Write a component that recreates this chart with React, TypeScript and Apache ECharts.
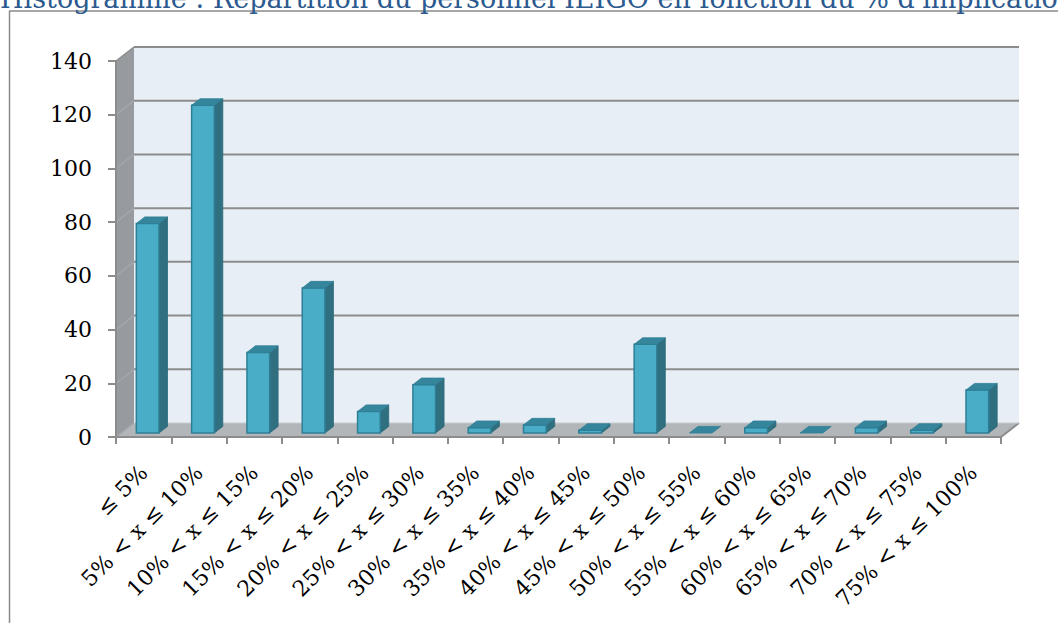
import React, { useEffect, useRef } from "react";
import * as echarts from "echarts";

const titleText = "Histogramme : Répartition du personnel IEIGO en fonction du % d'implication";
const categories = [
  "≤ 5%",
  "5% < x ≤ 10%",
  "10% < x ≤ 15%",
  "15% < x ≤ 20%",
  "20% < x ≤ 25%",
  "25% < x ≤ 30%",
  "30% < x ≤ 35%",
  "35% < x ≤ 40%",
  "40% < x ≤ 45%",
  "45% < x ≤ 50%",
  "50% < x ≤ 55%",
  "55% < x ≤ 60%",
  "60% < x ≤ 65%",
  "65% < x ≤ 70%",
  "70% < x ≤ 75%",
  "75% < x ≤ 100%",
];
const values = [78, 122, 30, 54, 8, 18, 2, 3, 1, 33, 0, 2, 0, 2, 1, 16];
const yMin = 0;
const yMax = 140;
const yInterval = 20;
const yTicks = [0, 20, 40, 60, 80, 100, 120, 140];

const DX = 18;
const DY = -14;
const BX = 4;
const BY = -4;
const BDX = 8.5;
const BDY = -6.6;
const GRID_COLOR = "#8c8c8c";

export default function App() {
  const ref = useRef<HTMLDivElement>(null);
  useEffect(() => {
    document.body.style.margin = "0";
    const chart = echarts.init(ref.current!, null, { renderer: "svg" });
    const n = categories.length;

    const frameRender = (params: any, api: any) => {
      const bandW = api.size([1, 0])[0];
      const L = api.coord([0, 0])[0] - bandW / 2;
      const R = api.coord([n - 1, 0])[0] + bandW / 2;
      const y0 = api.coord([0, yMin])[1];
      const yT = api.coord([0, yMax])[1];
      const children: any[] = [];
      children.push({
        type: "rect",
        shape: { x: L + DX, y: yT + DY, width: R - L, height: y0 - yT },
        style: { fill: "#e8eef6" },
      });
      children.push({
        type: "polygon",
        shape: { points: [[L, yT], [L + DX, yT + DY], [L + DX, y0 + DY], [L, y0]] },
        style: { fill: "#979a9e" },
      });
      children.push({
        type: "polygon",
        shape: { points: [[L, y0], [L + DX, y0 + DY], [R + DX, y0 + DY], [R, y0]] },
        style: { fill: "#b3b6b9" },
      });
      yTicks.forEach((t) => {
        const yy = api.coord([0, t])[1];
        if (t !== yMin) {
          children.push({
            type: "line",
            shape: { x1: L + DX, y1: yy + DY, x2: R + DX, y2: yy + DY },
            style: { stroke: GRID_COLOR, lineWidth: 2 },
          });
        }
        children.push({
          type: "line",
          shape: { x1: L, y1: yy, x2: L + DX, y2: yy + DY },
          style: { stroke: t === yMax ? GRID_COLOR : "#a3a6aa", lineWidth: 1.5 },
        });
      });
      children.push({
        type: "line",
        shape: { x1: R, y1: y0, x2: R + DX, y2: y0 + DY },
        style: { stroke: GRID_COLOR, lineWidth: 2 },
      });
      children.push({
        type: "line",
        shape: { x1: L + DX, y1: y0 + DY, x2: R + DX, y2: y0 + DY },
        style: { stroke: "#c9ccd0", lineWidth: 1 },
      });
      return { type: "group", children };
    };

    const barRender = (params: any, api: any) => {
      const i = api.value(0);
      const v = api.value(1);
      const bandW = api.size([1, 0])[0];
      const c = api.coord([i, v]);
      const c0 = api.coord([i, 0]);
      const w = bandW * 0.41;
      const xl = c[0] + BX - w / 2;
      const xr = xl + w;
      const top = c[1] + BY;
      const bottom = c0[1] + BY;
      const children: any[] = [];
      if (bottom - top > 0.5) {
        children.push({
          type: "polygon",
          shape: { points: [[xr, top], [xr + BDX, top + BDY], [xr + BDX, bottom + BDY], [xr, bottom]] },
          style: { fill: "#2f6f80", stroke: "#2b6a7a", lineWidth: 0.8 },
        });
        children.push({
          type: "rect",
          shape: { x: xl, y: top, width: w, height: bottom - top },
          style: { fill: "#4aadc8", stroke: "#2e7f95", lineWidth: 1.5 },
        });
      }
      children.push({
        type: "polygon",
        shape: { points: [[xl, top], [xl + BDX, top + BDY], [xr + BDX, top + BDY], [xr, top]] },
        style: { fill: "#35869c", stroke: "#2e7f95", lineWidth: 0.8 },
      });
      return { type: "group", children };
    };

    chart.setOption({
      animation: false,
      backgroundColor: "#ffffff",
      grid: { left: 116, right: 57, top: 61, bottom: 186, containLabel: false },
      graphic: [
        {
          type: "line",
          shape: { x1: 9.5, y1: 11, x2: 9.5, y2: 623 },
          style: { stroke: "#8a8a8a", lineWidth: 1.5 },
          z: 1,
        },
        {
          type: "line",
          shape: { x1: 9, y1: 11, x2: 1058, y2: 11 },
          style: { stroke: "#8a8a8a", lineWidth: 1.5 },
          z: 1,
        },
        {
          type: "text",
          x: 0,
          y: 12,
          z: 5,
          style: {
            text: titleText,
            fill: "#2c5a8e",
            font: "27px 'DejaVu Serif'",
            verticalAlign: "bottom",
            align: "left",
          },
        },
      ],
      xAxis: {
        type: "category",
        data: categories,
        z: 10,
        axisLine: { show: true, lineStyle: { color: GRID_COLOR, width: 2 } },
        axisTick: { show: true, length: 7, interval: 0, lineStyle: { color: GRID_COLOR, width: 2 } },
        axisLabel: {
          interval: 0,
          rotate: 45,
          margin: 32,
          color: "#000",
          fontFamily: "DejaVu Serif",
          fontSize: 22,
        },
        splitLine: { show: false },
      },
      yAxis: {
        type: "value",
        min: yMin,
        max: yMax,
        interval: yInterval,
        z: 10,
        axisLine: { show: true, lineStyle: { color: GRID_COLOR, width: 2 } },
        axisTick: { show: true, length: 8, lineStyle: { color: GRID_COLOR, width: 2 } },
        axisLabel: { margin: 24, color: "#000", fontFamily: "DejaVu Serif", fontSize: 22 },
        splitLine: { show: false },
      },
      series: [
        {
          type: "custom",
          name: "frame",
          z: 1,
          clip: false,
          silent: true,
          renderItem: frameRender,
          data: [[0, 0]],
          encode: { x: 0, y: 1 },
        },
        {
          type: "custom",
          name: "Effectif",
          z: 3,
          clip: false,
          renderItem: barRender,
          data: values.map((v, i) => [i, v]),
          encode: { x: 0, y: 1 },
        },
      ],
    });
    return () => chart.dispose();
  }, []);
  return (
    <div
      ref={ref}
      style={{ position: "absolute", left: 0, top: 0, width: 1058, height: 623 }}
    />
  );
}
